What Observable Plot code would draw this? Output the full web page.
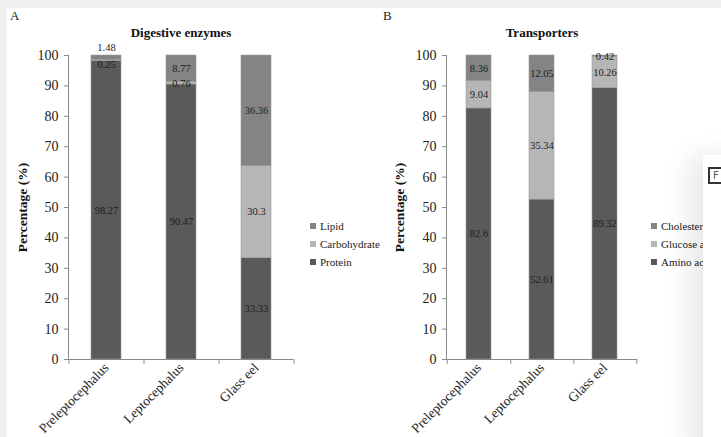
<!DOCTYPE html>
<html><head><meta charset="utf-8">
<script src="https://cdn.jsdelivr.net/npm/d3@7"></script>
<script src="https://cdn.jsdelivr.net/npm/@observablehq/plot@0.6"></script>
<style>
html,body{margin:0;padding:0;background:#fff;}
#root{position:relative;width:721px;height:437px;overflow:hidden;background:#fff;font-family:"Liberation Serif","DejaVu Serif",serif;}
.abs{position:absolute;}
.strip-top{left:0;top:0;width:721px;height:8px;background:#efefef;}
.strip-left{left:0;top:8px;width:7px;height:429px;background:#f1f1f1;}
.panel-letter{font-size:13px;color:#222;}
.leg{width:200px;}
.leg, .leg *{font-family:"Liberation Serif","DejaVu Serif",serif !important;font-size:11px !important;color:#222;}
.leg [class$="-swatch"]{height:18px;padding-bottom:0 !important;}
.leg svg{margin-right:4px !important;}
.overlay{left:703px;top:155px;width:60px;height:300px;background:#fff;box-shadow:-14px 0 26px rgba(0,0,0,0.09);}
.fbtn{left:708px;top:167px;width:20px;height:13px;border:2px solid #333;background:#fff;font:10px "DejaVu Sans",sans-serif;color:#555;line-height:13px;padding-left:3px;}
</style></head><body><div id="root"></div>
<script>
// ---- data ----
const stages = ["Preleptocephalus", "Leptocephalus", "Glass eel"];

const enzymeSeries = ["Protein", "Carbohydrate", "Lipid"];
const enzymeProtein = [98.27, 90.47, 33.33];
const enzymeCarbohydrate = [0.25, 0.76, 30.3];
const enzymeLipid = [1.48, 8.77, 36.36];

const transporterSeries = ["Amino acid transporter", "Glucose and fructose transporter", "Cholesterol transporter"];
const transAmino = [82.6, 52.61, 89.32];
const transGlucose = [9.04, 35.34, 10.26];
const transCholesterol = [8.36, 12.05, 0.42];

const yTicks = [0, 10, 20, 30, 40, 50, 60, 70, 80, 90, 100];
const seriesColors = ["#5a5a5a", "#b6b6b6", "#848484"];

// ---- drawing ----
const root = document.getElementById("root");
const axisColor = "#8a8a8a";
const font = "Liberation Serif, DejaVu Serif, serif";

function stackRows(series, values) {
  const rows = [];
  stages.forEach((stage, i) => {
    let cum = 0;
    series.forEach((s, j) => {
      const v = values[j][i];
      rows.push({stage, series: s, value: v, y1: cum, y2: cum + v, labelY: cum + v / 2, top: j === series.length - 1});
      cum += v;
    });
  });
  return rows;
}

function panel({series, values, left, width, height, mt, mb, ml, mr, title, ylabelDx, adjust}) {
  const rows = stackRows(series, values);
  if (adjust) adjust(rows);
  const step = (width - ml - mr) / stages.length;
  const chart = Plot.plot({
    width, height,
    marginTop: mt, marginBottom: mb, marginLeft: ml, marginRight: mr,
    style: {fontFamily: font, background: "transparent", overflow: "visible"},
    x: {domain: stages, paddingInner: 0.6, paddingOuter: 0.3, axis: null},
    y: {domain: [0, 100], axis: null},
    color: {domain: series, range: seriesColors},
    marks: [
      Plot.barY(rows, {x: "stage", y1: "y1", y2: "y2", fill: "series", stroke: "#9c9c9c", strokeWidth: 0.6, inset: 0}),
      Plot.ruleY([0], {stroke: axisColor}),
      Plot.frame({anchor: "left", stroke: axisColor}),
      Plot.axisY({ticks: yTicks, tickSize: 4, tickPadding: 6, label: null, fontSize: 14, stroke: axisColor, color: "#222"}),
      Plot.axisX({tickSize: 0, tickPadding: 6, tickRotate: -45, label: null, fontSize: 13.5, color: "#222"}),
      Plot.ruleX(stages, {x: d => d, dx: step / 2, y1: 0, y2: -1.6, stroke: axisColor}),
      Plot.ruleX(stages.slice(0, 1), {x: d => d, dx: -step / 2, y1: 0, y2: -1.6, stroke: axisColor}),
      Plot.text(rows, {x: "stage", y: "labelY", text: d => String(d.value), fontSize: 10.5, fill: "#1c1c1c"}),
      Plot.text([title], {frameAnchor: "top", lineAnchor: "middle", textAnchor: "middle", dy: -23, fontWeight: "bold", fontSize: 13, fill: "#111"}),
      Plot.text(["Percentage (%)"], {frameAnchor: "left", lineAnchor: "middle", textAnchor: "middle", rotate: -90, dx: ylabelDx, fontWeight: "bold", fontSize: 13.5, fill: "#111"})
    ]
  });
  chart.style.position = "absolute";
  chart.style.left = left + "px";
  chart.style.top = "0px";
  root.appendChild(chart);
}

function legend(series, left, top) {
  const leg = Plot.legend({
    legend: "swatches",
    columns: 1,
    swatchSize: 6,
    color: {domain: series.slice().reverse(), range: seriesColors.slice().reverse()},
    style: {fontFamily: font, fontSize: "11px", color: "#222", margin: "0"}
  });
  const wrap = document.createElement("div");
  wrap.className = "abs leg";
  wrap.style.left = left + "px";
  wrap.style.top = top + "px";
  wrap.appendChild(leg);
  root.appendChild(wrap);
}

function addDiv(cls, text, left, top) {
  const d = document.createElement("div");
  d.className = "abs " + cls;
  if (text) d.textContent = text;
  if (left != null) { d.style.left = left + "px"; d.style.top = top + "px"; }
  root.appendChild(d);
  return d;
}

addDiv("strip-top");
addDiv("strip-left");
addDiv("panel-letter", "A", 10, 8);
addDiv("panel-letter", "B", 383, 8);

panel({
  series: enzymeSeries,
  values: [enzymeProtein, enzymeCarbohydrate, enzymeLipid],
  left: 0, width: 360, height: 437, mt: 55, mb: 78, ml: 68, mr: 67,
  title: "Digestive enzymes", ylabelDx: -46,
  adjust: rows => {
    // Excel moved the crowded labels of the first stage apart
    rows.forEach(r => {
      if (r.stage === stages[0] && r.top) r.labelY = r.y2 + 2.6;
      else if (r.stage === stages[0] && r.value < 1) r.labelY -= 1.3;
    });
  }
});
legend(enzymeSeries, 310, 217);

panel({
  series: transporterSeries,
  values: [transAmino, transGlucose, transCholesterol],
  left: 380, width: 280, height: 437, mt: 55, mb: 78, ml: 66, mr: 23,
  title: "Transporters", ylabelDx: -47
});
legend(transporterSeries, 651, 217);

addDiv("overlay");
addDiv("fbtn", "F");
</script>
</body></html>
